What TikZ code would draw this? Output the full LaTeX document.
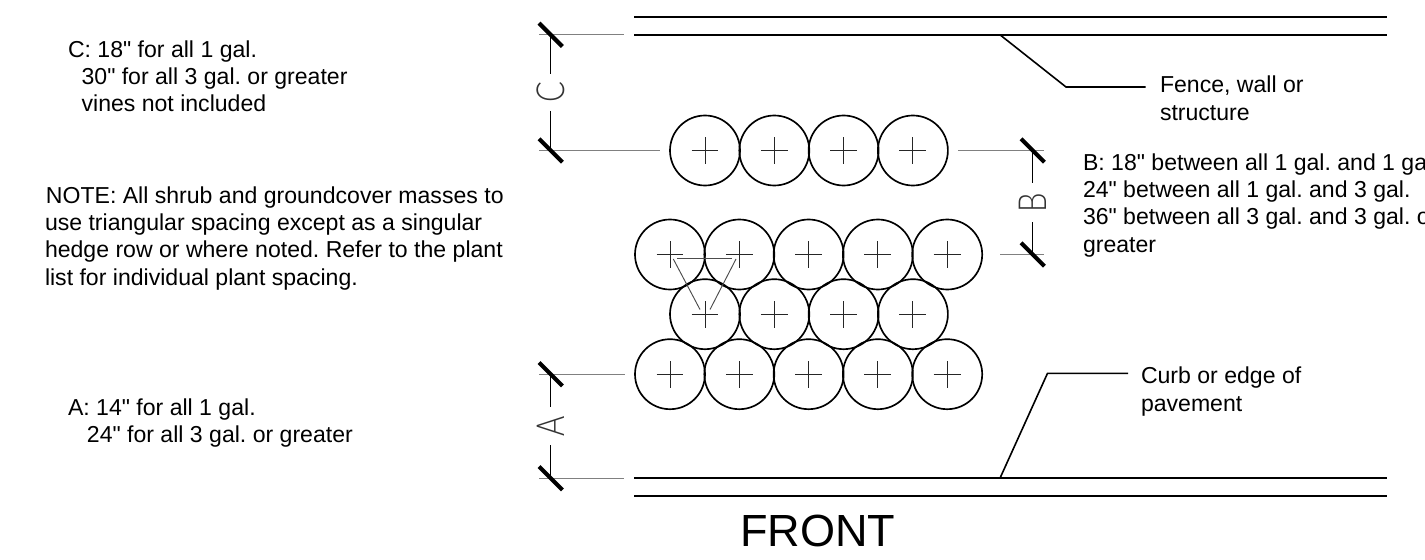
\documentclass[tikz,border=0pt]{standalone}
\usepackage{fontspec}
\setmainfont[Ligatures=TeXOff]{Liberation Sans}
\newfontfamily\dimfont{Lato Light}
\frenchspacing
\tikzset{
  wall/.style={line width=1.4pt,black},
  leader/.style={line width=1.2pt,black,line join=miter},
  ext/.style={line width=.7pt,black!50},
  dimline/.style={line width=1.05pt,black},
  tick/.style={line width=3.1pt,black},
  plant/.style={circle,draw=black,line width=1.25pt,minimum size=52.5pt,inner sep=0pt,outer sep=0pt},
  crossline/.style={line width=.7pt,black!85},
  tri/.style={line width=.7pt,black!70},
  note/.style={inner sep=0pt,outer sep=0pt,anchor=base west,align=left,font=\fontsize{17.3pt}{20.5pt}\selectfont},
  dimlabel/.style={inner sep=0pt,outer sep=0pt,rotate=90,xscale=.8,font=\dimfont\fontsize{29pt}{30pt}\selectfont,text=black!80},
}
\newcommand{\tickmark}[1]{\draw[tick] ([shift={(-11.7,-11.7)}]#1) -- ([shift={(11.7,11.7)}]#1);}
\begin{document}
\begin{tikzpicture}[x=0.75pt,y=-0.75pt]
\useasboundingbox (0,0) rectangle (1425,560);
% walls
\coordinate (w1l) at (634,17.2); \coordinate (w1r) at (1387,17.2);
\coordinate (w2l) at (634,34.8); \coordinate (w2r) at (1387,34.8);
\coordinate (c1l) at (634,478.2); \coordinate (c1r) at (1387,478.2);
\coordinate (c2l) at (634,495.8); \coordinate (c2r) at (1387,495.8);
\draw[wall] (w1l) -- (w1r);
\draw[wall] (w2l) -- (w2r);
\draw[wall] (c1l) -- (c1r);
\draw[wall] (c2l) -- (c2r);
% plants
\foreach \n/\x/\y in {a1/705/150.5,a2/774.3/150.5,a3/843.6/150.5,a4/912.9/150.5,
  b1/670/254.5,b2/739.3/254.5,b3/808.6/254.5,b4/877.9/254.5,b5/947.2/254.5,
  c1/705/314.2,c2/774.3/314.2,c3/843.6/314.2,c4/912.9/314.2,
  d1/670/374.2,d2/739.3/374.2,d3/808.6/374.2,d4/877.9/374.2,d5/947.2/374.2}{
  \node[plant] (\n) at (\x,\y) {};
  \draw[crossline] ([xshift=-10.1pt]\n.center) -- ([xshift=10.1pt]\n.center);
  \draw[crossline] ([yshift=-10.1pt]\n.center) -- ([yshift=10.1pt]\n.center);
}
% triangle
\coordinate (t1) at (677,258.7); \coordinate (t2) at (732,258.7);
\coordinate (t3) at (673.3,259); \coordinate (t4) at (700,309.5);
\coordinate (t5) at (736,259); \coordinate (t6) at (710,309.5);
\draw[tri] (t1) -- (t2);
\draw[tri] (t3) -- (t4);
\draw[tri] (t5) -- (t6);
% dimension anchors
\coordinate (ctop) at (550.7,34.8); \coordinate (cbot) at (550.7,150.5);
\coordinate (btop) at (1032.7,150.5); \coordinate (bbot) at (1032.7,254.5);
\coordinate (atop) at (550.7,374.2); \coordinate (abot) at (550.7,478.2);
% extension lines
\coordinate (e1a) at (539,34.8); \coordinate (e1b) at (624,34.8);
\coordinate (e2a) at (539,150.5); \coordinate (e2b) at (659.5,150.5);
\coordinate (e3a) at (958,150.5); \coordinate (e3b) at (1044,150.5);
\coordinate (e4a) at (1000,254.5); \coordinate (e4b) at (1044,254.5);
\coordinate (e5a) at (539,374.2); \coordinate (e5b) at (625,374.2);
\coordinate (e6a) at (539,478.2); \coordinate (e6b) at (624,478.2);
\draw[ext] (e1a) -- (e1b);
\draw[ext] (e2a) -- (e2b);
\draw[ext] (e3a) -- (e3b);
\draw[ext] (e4a) -- (e4b);
\draw[ext] (e5a) -- (e5b);
\draw[ext] (e6a) -- (e6b);
% dimension labels
\node[dimlabel] (lc) at (550.7,92) {C};
\node[dimlabel] (lb) at (1033,202.5) {B};
\node[dimlabel] (la) at (550.7,426) {A};
% dimension lines
\coordinate (cu) at (550.7,73.7); \coordinate (cd) at (550.7,111);
\coordinate (bu) at (1032.7,182.5); \coordinate (bd) at (1032.7,222);
\coordinate (au) at (550.7,407.3); \coordinate (ad) at (550.7,445);
\draw[dimline] (ctop) -- (cu);
\draw[dimline] (cd) -- (cbot);
\draw[dimline] (btop) -- (bu);
\draw[dimline] (bd) -- (bbot);
\draw[dimline] (atop) -- (au);
\draw[dimline] (ad) -- (abot);
\tickmark{ctop} \tickmark{cbot} \tickmark{btop} \tickmark{bbot} \tickmark{atop} \tickmark{abot}
% leaders
\coordinate (f1) at (1000,34.8); \coordinate (f2) at (1066,87); \coordinate (f3) at (1145.5,87);
\coordinate (p1) at (1000,478.2); \coordinate (p2) at (1047.5,373.3); \coordinate (p3) at (1128,373.3);
\draw[leader] (f1) -- (f2) -- (f3);
\draw[leader] (p1) -- (p2) -- (p3);
% texts
\node[note] (tc) at (68,111.7) {C: 18" for all 1 gal.\\\hspace*{10.2pt}30" for all 3 gal. or greater\\\hspace*{10.2pt}vines not included};
\node[note] (tn) at (45,285) {\hspace*{.7pt}NOTE: All shrub and groundcover masses to\\use triangular spacing except as a singular\\hedge row or where noted. Refer to the plant\\list for individual plant spacing.};
\node[note] (ta) at (68,442.7) {A: 14" for all 1 gal.\\\hspace*{14.2pt}24" for all 3 gal. or greater};
\node[note] (tf) at (1160,120) {Fence, wall or\\structure};
\node[note] (tb) at (1083,252) {B: 18" between all 1 gal. and 1 gal.\\24" between all 1 gal. and 3 gal.\\36" between all 3 gal. and 3 gal. or\\greater};
\node[note] (tp) at (1141,411) {Curb or edge of\\pavement};
\node[inner sep=0pt,outer sep=0pt,anchor=base west,font=\fontsize{33.8pt}{36pt}\selectfont] (front) at (740,546.7) {FRONT};
\end{tikzpicture}
\end{document}
